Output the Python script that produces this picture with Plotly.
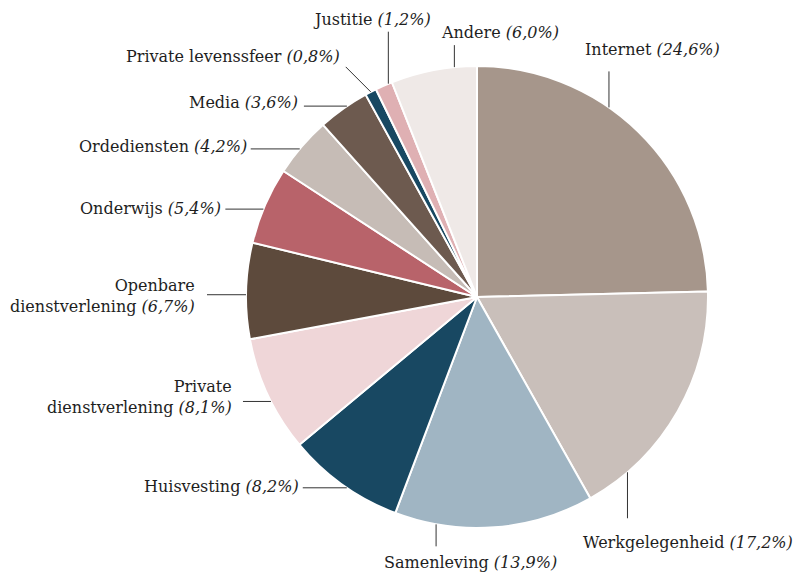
import math
import plotly.graph_objects as go

# ---- data ----
categories = ["Internet", "Werkgelegenheid", "Samenleving", "Huisvesting",
              "Private dienstverlening", "Openbare dienstverlening", "Onderwijs",
              "Ordediensten", "Media", "Private levenssfeer", "Justitie", "Andere"]
values = [24.6, 17.2, 13.9, 8.2, 8.1, 6.7, 5.4, 4.2, 3.6, 0.8, 1.2, 6.0]
label_text = ["Internet", "Werkgelegenheid", "Samenleving", "Huisvesting",
              "Private<br>dienstverlening", "Openbare<br>dienstverlening", "Onderwijs",
              "Ordediensten", "Media", "Private levenssfeer", "Justitie", "Andere"]

# ---- styles ----
colors = ["#a6968b", "#c9bfba", "#a0b5c3", "#184862", "#efd6d8", "#5d4a3c",
          "#b8636a", "#c6bcb6", "#6d5a4f", "#184862", "#dfb0b3", "#efe9e7"]

W, H = 807, 574
CX, CY, R = 477, 297, 231
FONT = "DejaVu Serif"
FSIZE = 16

# leader layout: where along slice the leader touches (fraction), leader vector (px),
# text offset from leader end (px) and anchor
leader_frac = [0.393, 0.818, 0.79, 0.46, 0.44, 0.46, 0.45, 0.45, 0.58, 0.5, 0.78, 0.74]
leader_vec = [(0, -36), (0, 46), (0, 22), (-44, 0), (-28, 0), (-39, 0), (-38, 0),
              (-49, 0), (-43, 0), (-25, -25), (0, -52), (0, -22)]
text_off = [(-26, -22, "left"), (-46, 24, "left"), (-54, 16, "left"), (-2, -1, "right"),
            (-9, -4, "right"), (-10, 1, "right"), (-2, -1, "right"), (-2, -2, "right"),
            (-4, -4, "right"), (-4, -10, "right"), (-16, -12, "center"), (-15, -13, "left")]

def fmt(v):
    return f"{v:.1f}".replace(".", ",") + "%"

fig = go.Figure()
fig.add_trace(go.Pie(
    labels=categories, values=values, sort=False, direction="clockwise", rotation=0,
    marker=dict(colors=colors, line=dict(color="white", width=2)),
    textinfo="none", hoverinfo="label+percent", showlegend=False,
    domain=dict(x=[(CX - R) / W, (CX + R) / W], y=[1 - (CY + R) / H, 1 - (CY - R) / H]),
))

total = sum(values)
shapes, annotations = [], []
cum = 0.0
for i, v in enumerate(values):
    theta = math.radians((cum + leader_frac[i] * v) / total * 360)
    cum += v
    ax = CX + R * math.sin(theta)
    ay = CY - R * math.cos(theta)
    ex = ax + leader_vec[i][0]
    ey = ay + leader_vec[i][1]
    shapes.append(dict(type="line", xref="x", yref="y", x0=ax, y0=ay, x1=ex, y1=ey,
                       line=dict(color="#333333", width=1)))
    dx, dy, anc = text_off[i]
    annotations.append(dict(
        xref="x", yref="y", x=ex + dx, y=ey + dy, xanchor=anc, yanchor="middle",
        text=f"{label_text[i]} <i>({fmt(v)})</i>", showarrow=False,
        align="right" if anc == "right" else "left",
        font=dict(family=FONT, size=FSIZE, color="#1e1e1e"),
    ))

fig.update_layout(
    width=W, height=H, margin=dict(l=0, r=0, t=0, b=0),
    paper_bgcolor="white", plot_bgcolor="white",
    xaxis=dict(range=[0, W], visible=False, fixedrange=True),
    yaxis=dict(range=[H, 0], visible=False, fixedrange=True),
    shapes=shapes, annotations=annotations,
)
fig.write_html("out.html", config={"displayModeBar": False},
               post_script="document.body.style.margin='0';")
